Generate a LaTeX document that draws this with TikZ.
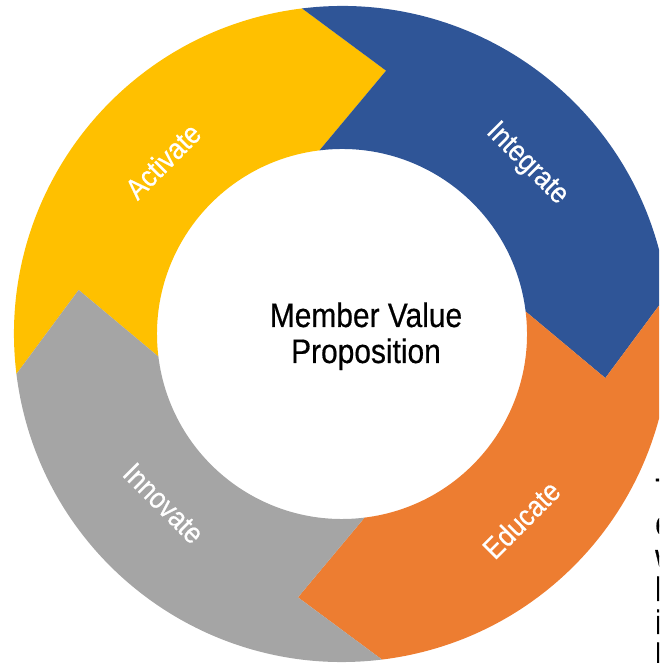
\documentclass[tikz,border=0pt]{standalone}
\usepackage{fontspec}
\setmainfont{Liberation Sans}[FakeStretch=0.88, FakeBold=0.5]
\definecolor{segyellow}{HTML}{FFC000}
\definecolor{segblue}{HTML}{2F5597}
\definecolor{segorange}{HTML}{ED7D31}
\definecolor{seggrey}{HTML}{A5A5A5}
\tikzset{
  ringlabel/.style={text=white, font=\fontsize{29.5}{32}\selectfont, inner sep=0pt},
  centertext/.style={text=black, font=\fontsize{34}{37}\selectfont, inner sep=0pt, anchor=base},
  sidetext/.style={text=black, font=\fontsize{34}{37}\selectfont, inner sep=0pt, anchor=base west},
}
\newcommand\ringseg[3]{%
  \fill[#1] (#2:328pt) arc[start angle=#2, end angle=#3, radius=328pt]
    -- ({#3-16.5}:267pt) -- (#3:185pt)
    arc[start angle=#3, end angle=#2, radius=185pt]
    -- ({#2-16.5}:267pt) -- cycle;}
\begin{document}
\begin{tikzpicture}
  \useasboundingbox (0,0) rectangle (659pt,663pt);
  \clip (0,0) rectangle (659pt,663pt);
  \begin{scope}[shift={(342pt,329pt)}]
    \ringseg{segyellow}{187}{97}
    \ringseg{segblue}{97}{7}
    \ringseg{segorange}{7}{-83}
    \ringseg{seggrey}{-83}{-173}
    \node[ringlabel, rotate=45]  (activate)  at (136:249pt)   {Activate};
    \node[ringlabel, rotate=-45] (integrate) at (42.6:251pt)  {Integrate};
    \node[ringlabel, rotate=45]  (educate)   at (-46:258pt)   {Educate};
    \node[ringlabel, rotate=-45] (innovate)  at (223.5:246pt) {Innovate};
  \end{scope}
  \node[centertext] (mv1) at (366pt,336pt) {Member Value};
  \node[centertext] (mv2) at (366pt,300pt) {Proposition};
  \node[sidetext] (s1) at (655pt,161pt) {T};
  \node[sidetext] (s2) at (655pt,128pt) {c};
  \node[sidetext] (s3) at (655pt,95pt) {w};
  \node[sidetext] (s4) at (655pt,62pt) {l};
  \node[sidetext] (s5) at (655pt,29pt) {i};
  \node[sidetext] (s6) at (655pt,-4pt) {l};
\end{tikzpicture}
\end{document}
